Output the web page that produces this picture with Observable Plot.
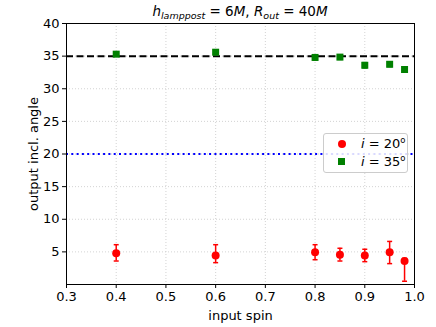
<!DOCTYPE html>
<html><head><meta charset="utf-8">
<script src="https://cdn.jsdelivr.net/npm/d3@7"></script>
<script src="https://cdn.jsdelivr.net/npm/@observablehq/plot@0.6"></script>
<style>
body{margin:0;background:#fff;font-family:"DejaVu Sans",sans-serif;}
#wrap{position:relative;width:436px;height:327px;}
#title{position:absolute;top:1px;left:66px;width:348px;text-align:center;font-size:13.5px;line-height:20px;}
#title sub{font-size:9.5px;vertical-align:-3px;line-height:0;}
#legend{position:absolute;left:323px;top:133px;width:85px;height:40px;border:1px solid #ccc;border-radius:3px;background:rgba(255,255,255,0.85);font-size:13px;box-sizing:border-box;}
.row{position:absolute;left:0;height:16px;line-height:16px;}
.row .t{position:absolute;left:37px;white-space:nowrap;}
.row sup{font-size:8.5px;vertical-align:5px;line-height:0;}
.mk{position:absolute;}
</style></head><body>
<div id="wrap">
<div id="title"><i>h</i><sub><i>lamppost</i></sub> = 6<i>M</i>, <i>R</i><sub><i>out</i></sub> = 40<i>M</i></div>
<div id="chart"></div>
<div id="legend">
 <div class="row" style="top:2px"><div class="mk" style="left:14px;top:4px;width:8px;height:8px;border-radius:50%;background:#ff0000"></div><span class="t"><i>i</i> = 20<sup>o</sup></span></div>
 <div class="row" style="top:20px"><div class="mk" style="left:14px;top:4px;width:7px;height:7px;background:#008000"></div><span class="t"><i>i</i> = 35<sup>o</sup></span></div>
</div>
</div>
<script>
const spins = [0.4, 0.6, 0.8, 0.85, 0.9, 0.95, 0.98];
const incl20 = [4.8, 4.45, 4.95, 4.55, 4.45, 4.95, 3.6];
const incl20Lo = [3.6, 3.35, 3.8, 3.6, 3.5, 3.2, 0.5];
const incl20Hi = [6.1, 6.1, 6.1, 5.55, 5.4, 6.6, 4.0];
const incl35 = [35.3, 35.6, 34.8, 34.85, 33.6, 33.75, 32.95];
const incl35Lo = [35.0, 35.3, 34.4, 34.5, 33.2, 33.4, 32.7];
const incl35Hi = [35.6, 35.9, 35.2, 35.2, 34.0, 34.1, 33.2];
const trueAngles = [35, 20];
const xTicks = [0.3,0.4,0.5,0.6,0.7,0.8,0.9,1.0];
const yTicks = [5,10,15,20,25,30,35,40];

const d20 = spins.map((x,i)=>({x, y:incl20[i], lo:incl20Lo[i], hi:incl20Hi[i]}));
const d35 = spins.map((x,i)=>({x, y:incl35[i], lo:incl35Lo[i], hi:incl35Hi[i]}));
const cap = {draw(ctx, size){ const w = Math.sqrt(size/Math.PI); ctx.moveTo(-w,0); ctx.lineTo(w,0); }};

const plot = Plot.plot({
  width: 436, height: 327,
  marginTop: 23, marginLeft: 66, marginRight: 22, marginBottom: 43,
  style: {fontFamily: "DejaVu Sans, sans-serif", fontSize: "13px", color: "#000", background: "transparent"},
  x: {domain: [0.3, 1.0], ticks: xTicks, tickFormat: d3.format(".1f"), tickSize: 4, tickPadding: 3, label: "input spin", labelAnchor: "center", labelArrow: "none", labelOffset: 35},
  y: {domain: [0, 40], ticks: yTicks, tickSize: 4, tickPadding: 3, label: "output incl. angle", labelAnchor: "center", labelArrow: "none", labelOffset: 38},
  marks: [
    Plot.gridX(xTicks, {stroke: "#c8c8c8", strokeOpacity: 1, strokeDasharray: "1,2", strokeWidth: 0.8}),
    Plot.gridY(yTicks, {stroke: "#c8c8c8", strokeOpacity: 1, strokeDasharray: "1,2", strokeWidth: 0.8}),
    Plot.ruleY([trueAngles[0]], {stroke: "black", strokeWidth: 2, strokeDasharray: "7,3.5"}),
    Plot.ruleY([trueAngles[1]], {stroke: "blue", strokeWidth: 2, strokeDasharray: "2,3.3"}),
    Plot.ruleX(d20, {x: "x", y1: "lo", y2: "hi", stroke: "#ff0000", strokeWidth: 1.5}),
    Plot.dot(d20, {x: "x", y: "lo", symbol: cap, r: 2.5, stroke: "#ff0000", fill: "none", strokeWidth: 1.5}),
    Plot.dot(d20, {x: "x", y: "hi", symbol: cap, r: 2.5, stroke: "#ff0000", fill: "none", strokeWidth: 1.5}),
    Plot.ruleX(d35, {x: "x", y1: "lo", y2: "hi", stroke: "#008000", strokeWidth: 1.5}),
    Plot.dot(d35, {x: "x", y: "lo", symbol: cap, r: 2.5, stroke: "#008000", fill: "none", strokeWidth: 1.5}),
    Plot.dot(d35, {x: "x", y: "hi", symbol: cap, r: 2.5, stroke: "#008000", fill: "none", strokeWidth: 1.5}),
    Plot.dot(d20, {x: "x", y: "y", r: 4, fill: "#ff0000", symbol: "circle"}),
    Plot.dot(d35, {x: "x", y: "y", r: 3.95, fill: "#008000", symbol: "square"}),
    Plot.frame({stroke: "black", strokeWidth: 1})
  ]
});
document.getElementById("chart").appendChild(plot);
</script>
</body></html>
